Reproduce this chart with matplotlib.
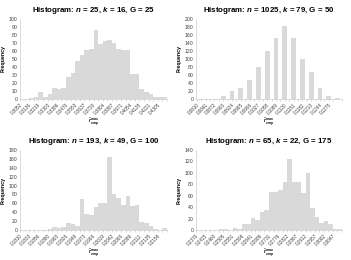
import numpy as np
import matplotlib
matplotlib.use("Agg")
import matplotlib.pyplot as plt

plt.rcParams['font.family'] = ['Liberation Sans', 'DejaVu Sans']
plt.rcParams['mathtext.fontset'] = 'custom'
plt.rcParams['mathtext.it'] = 'Liberation Sans:italic:bold'
plt.rcParams['mathtext.rm'] = 'Liberation Sans'

# data
titles = [
    r"Histogram: $n$ = 25, $k$ = 16, G = 25",
    r"Histogram: $n$ = 1025, $k$ = 79, G = 50",
    r"Histogram: $n$ = 193, $k$ = 49, G = 100",
    r"Histogram: $n$ = 65, $k$ = 22, G = 175",
]

freq1 = [0, 0, 1, 2, 9, 2, 6, 14, 13, 14, 27, 33, 47, 55, 61, 62,
         86, 69, 72, 74, 70, 63, 61, 61, 31, 31, 12, 9, 6, 3, 2, 2]
freq2 = [1, 1, 1, 8, 21, 28, 47, 79, 121, 152, 182, 152, 101, 68, 27, 8, 2]
freq3 = [0, 0, 0, 0, 0, 1, 2, 7, 5, 6, 16, 14, 10, 69, 35, 34,
         51, 61, 60, 165, 81, 72, 56, 76, 54, 56, 18, 15, 9, 2, 1, 4]
freq4 = [0, 0, 0, 0, 0, 1, 1, 0, 3, 2, 10, 10, 21, 18, 31, 35,
         67, 67, 70, 84, 125, 84, 84, 64, 100, 38, 22, 12, 15, 10, 1, 1]

labels1 = ["0.3052", "0.3136", "0.3219", "0.3303", "0.3386", "0.3470", "0.3553", "0.3637",
           "0.3720", "0.3804", "0.3887", "0.3971", "0.4054", "0.4138", "0.4221", "0.4305"]
labels2 = ["0.0810", "0.0841", "0.0872", "0.0903", "0.0934", "0.0965", "0.0996", "0.1027",
           "0.1058", "0.1089", "0.1120", "0.1151", "0.1182", "0.1213", "0.1244", "0.1275"]
labels3 = ["0.1810", "0.1833", "0.1856", "0.1880", "0.1903", "0.1926", "0.1949", "0.1973",
           "0.1996", "0.2019", "0.2042", "0.2066", "0.2089", "0.2112", "0.2135", "0.2158"]
labels4 = ["0.2370", "0.2415", "0.2460", "0.2505", "0.2551", "0.2596", "0.2641", "0.2686",
           "0.2731", "0.2776", "0.2822", "0.2867", "0.2912", "0.2957", "0.3002", "0.3047"]

ymax = [100, 200, 180, 140]
ystep = [10, 20, 20, 20]

W, H = 351, 260
fig = plt.figure(figsize=(W / 100, H / 100), dpi=100)

# axes boxes in pixels: left, top, right, bottom
boxes = [(20, 19, 167, 99), (196, 19, 342, 99), (20, 150, 167, 230), (196, 150, 342, 230)]
bar_col = '#d9d9d9'
ax_col = '#bfbfbf'

all_freq = [freq1, freq2, freq3, freq4]
all_labels = [labels1, labels2, labels3, labels4]

for i in range(4):
    l, t, r, b = boxes[i]
    ax = fig.add_axes([l / W, 1 - b / H, (r - l) / W, (b - t) / H])
    f = all_freq[i]
    x = np.arange(len(f))
    if i == 1:
        ax.bar(x, f, width=0.55, color=bar_col, align='center')
        ax.set_xlim(-0.1, 16.35)
        ax.set_xticks(np.arange(16))
        ax.set_xticks(np.arange(17) + 0.5, minor=True)
    else:
        ax.bar(x, f, width=1.0, color=bar_col, align='edge')
        ax.set_xlim(0, 32)
        ax.set_xticks(np.arange(0, 32, 2))
        ax.set_xticks(np.arange(0, 33), minor=True)
    ax.set_xticklabels(all_labels[i], rotation=45, ha='right', fontsize=3.3,
                       color='#404040', rotation_mode='anchor')
    ax.set_ylim(0, ymax[i])
    ax.set_yticks(np.arange(0, ymax[i] + 1, ystep[i]))
    ax.tick_params(axis='y', labelsize=3.7, length=0, pad=2, labelcolor='#404040')
    ax.tick_params(axis='x', which='both', length=1.5, width=0.4, color=ax_col, pad=1)
    for s in ['top', 'right']:
        ax.spines[s].set_visible(False)
    ax.spines['left'].set_color(ax_col)
    ax.spines['bottom'].set_color(ax_col)
    ax.spines['left'].set_linewidth(0.4)
    ax.spines['bottom'].set_linewidth(0.4)
    ax.set_ylabel("Frequency", fontsize=3.8, fontweight='bold', labelpad=2)
    ax.set_xlabel(r"$\hat{r}^{\,max}_{\,emp}$", fontsize=3.5, labelpad=0)
    ax.set_title(titles[i], fontsize=5.7, fontweight='bold', pad=5)

fig.savefig("out.png", dpi=100)
